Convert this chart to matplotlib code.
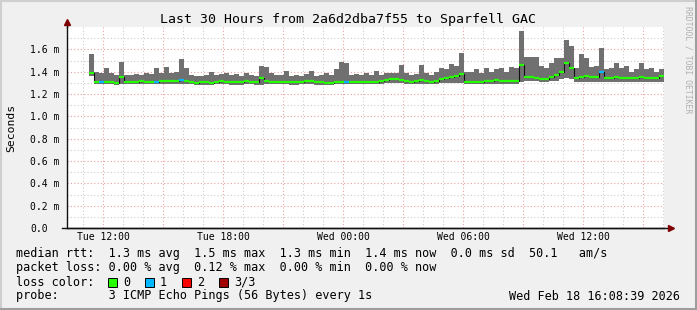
import numpy as np
import matplotlib.pyplot as plt
from matplotlib.patches import Rectangle
from matplotlib.lines import Line2D

W, H = 697, 310
MONO = 'DejaVu Sans Mono'

# time of first sample (hours since Tue 00:00) and sample spacing
start_hour = 11.3
step_hour = 0.25

# rtt values in ms, one per step
smoke_top = [1.56, 1.40, 1.39, 1.43, 1.39, 1.37, 1.49, 1.37, 1.37, 1.38,
             1.37, 1.39, 1.38, 1.43, 1.39, 1.44, 1.39, 1.40, 1.51, 1.43,
             1.37, 1.36, 1.36, 1.37, 1.40, 1.37, 1.38, 1.39, 1.37, 1.38,
             1.36, 1.39, 1.37, 1.36, 1.45, 1.44, 1.39, 1.37, 1.37, 1.41,
             1.36, 1.37, 1.36, 1.38, 1.41, 1.36, 1.37, 1.39, 1.37, 1.42,
             1.49, 1.48, 1.37, 1.38, 1.37, 1.39, 1.37, 1.41, 1.37, 1.39,
             1.39, 1.39, 1.46, 1.39, 1.37, 1.38, 1.46, 1.39, 1.37, 1.40,
             1.43, 1.42, 1.47, 1.45, 1.57, 1.40, 1.40, 1.42, 1.39, 1.43,
             1.40, 1.42, 1.43, 1.40, 1.44, 1.43, 1.76, 1.53, 1.53, 1.53,
             1.45, 1.43, 1.48, 1.52, 1.52, 1.68, 1.63, 1.43, 1.56, 1.52,
             1.44, 1.45, 1.61, 1.42, 1.43, 1.48, 1.43, 1.45, 1.40, 1.42,
             1.48, 1.42, 1.43, 1.40, 1.42]
smoke_bottom = [1.36, 1.29, 1.29, 1.29, 1.29, 1.285, 1.29, 1.29, 1.29, 1.29,
                1.29, 1.29, 1.29, 1.29, 1.29, 1.29, 1.29, 1.29, 1.29, 1.29,
                1.29, 1.285, 1.285, 1.285, 1.285, 1.29, 1.29, 1.29, 1.285, 1.285,
                1.285, 1.29, 1.29, 1.285, 1.28, 1.29, 1.29, 1.29, 1.29, 1.29,
                1.285, 1.285, 1.29, 1.29, 1.29, 1.285, 1.285, 1.28, 1.285, 1.29,
                1.29, 1.29, 1.29, 1.29, 1.29, 1.29, 1.29, 1.29, 1.29, 1.295,
                1.30, 1.30, 1.295, 1.29, 1.29, 1.29, 1.29, 1.29, 1.29, 1.29,
                1.30, 1.30, 1.30, 1.30, 1.30, 1.29, 1.29, 1.29, 1.29, 1.29,
                1.29, 1.29, 1.29, 1.29, 1.29, 1.29, 1.31, 1.32, 1.32, 1.32,
                1.31, 1.31, 1.32, 1.32, 1.33, 1.34, 1.33, 1.31, 1.31, 1.31,
                1.31, 1.31, 1.31, 1.305, 1.305, 1.305, 1.305, 1.305, 1.305, 1.305,
                1.305, 1.305, 1.305, 1.305, 1.31]
median_rtt = [1.39, 1.31, 1.31, 1.31, 1.305, 1.30, 1.35, 1.31, 1.31, 1.31,
              1.315, 1.31, 1.31, 1.31, 1.315, 1.32, 1.315, 1.32, 1.325, 1.32,
              1.31, 1.30, 1.305, 1.305, 1.30, 1.305, 1.32, 1.31, 1.305, 1.305,
              1.305, 1.32, 1.31, 1.305, 1.34, 1.32, 1.31, 1.31, 1.31, 1.31,
              1.305, 1.305, 1.31, 1.315, 1.32, 1.305, 1.305, 1.30, 1.30, 1.31,
              1.31, 1.31, 1.31, 1.31, 1.31, 1.31, 1.31, 1.31, 1.315, 1.325,
              1.335, 1.335, 1.325, 1.32, 1.31, 1.315, 1.325, 1.32, 1.31, 1.32,
              1.335, 1.34, 1.355, 1.365, 1.38, 1.31, 1.31, 1.31, 1.31, 1.32,
              1.315, 1.325, 1.32, 1.315, 1.315, 1.32, 1.46, 1.35, 1.35, 1.345,
              1.335, 1.335, 1.35, 1.37, 1.40, 1.48, 1.43, 1.345, 1.355, 1.365,
              1.355, 1.35, 1.40, 1.345, 1.345, 1.35, 1.345, 1.34, 1.34, 1.345,
              1.35, 1.34, 1.34, 1.34, 1.365]
loss = [0, 0, 1, 0, 0, 0, 0, 0, 0, 0,
        0, 0, 0, 1, 0, 0, 0, 0, 1, 0,
        0, 0, 0, 0, 0, 0, 0, 0, 0, 0,
        0, 0, 0, 0, 0, 0, 0, 0, 0, 0,
        0, 0, 0, 0, 0, 0, 0, 0, 0, 0,
        0, 1, 0, 0, 0, 0, 0, 0, 0, 0,
        0, 0, 0, 0, 0, 0, 0, 0, 0, 0,
        0, 0, 0, 0, 0, 0, 0, 0, 0, 0,
        0, 0, 0, 0, 0, 0, 0, 0, 0, 0,
        0, 0, 0, 0, 0, 0, 0, 0, 0, 0,
        0, 0, 1, 0, 0, 0, 0, 0, 0, 0,
        0, 0, 0, 0, 0]

loss_colors = ['#26ff00', '#00b8ff', '#ff0000', '#a00000']
loss_labels = ['0', '1', '2', '3/3']
tick_hours = [12, 18, 24, 30, 36]
tick_labels = ['Tue 12:00', 'Tue 18:00', 'Wed 00:00', 'Wed 06:00', 'Wed 12:00']
y_ticks = [0.0, 0.2, 0.4, 0.6, 0.8, 1.0, 1.2, 1.4, 1.6]

legend_lines = [
    'median rtt:  1.3 ms avg  1.5 ms max  1.3 ms min  1.4 ms now  0.0 ms sd  50.1   am/s',
    'packet loss: 0.00 % avg  0.12 % max  0.00 % min  0.00 % now',
    'loss color:',
    'probe:       3 ICMP Echo Pings (56 Bytes) every 1s',
]


def fx(x):
    return x / W


def fy(y):
    return 1 - y / H


fig = plt.figure(figsize=(W / 100, H / 100), dpi=100, facecolor='#f0f0f0')
ax = fig.add_axes([fx(67), fy(228), 597 / W, 201 / H])
ax.set_facecolor('white')
ax.set_xlim(10.2, 40.05)
ax.set_ylim(0, 1.8)

# grid: minor every hour / 0.1 ms, major every 3 hours / 0.2 ms
for h in range(11, 41):
    c = '#e8a0a0' if h % 3 == 0 else '#cccccc'
    ax.axvline(h, color=c, lw=0.8, ls=(0, (1, 2)), zorder=0)
for k in range(1, 18):
    c = '#e8a0a0' if k % 2 == 0 else '#cccccc'
    ax.axhline(k / 10, color=c, lw=0.8, ls=(0, (1, 2)), zorder=0)

n = len(median_rtt)
edges = start_hour + step_hour * np.arange(n + 1)
ax.fill_between(edges, smoke_bottom + smoke_bottom[-1:], smoke_top + smoke_top[-1:],
                step='post', color='#707070', lw=0, zorder=2)
ax.step(edges, median_rtt + median_rtt[-1:], where='post', color='#101010', lw=0.8, zorder=3)
ax.hlines(median_rtt, edges[:-1], edges[1:], colors=[loss_colors[l] for l in loss],
          lw=1.6, zorder=4)

# axes
for s in ['top', 'right']:
    ax.spines[s].set_visible(False)
for s in ['left', 'bottom']:
    ax.spines[s].set_color('#101010')
    ax.spines[s].set_linewidth(1)
ax.add_line(Line2D([0, 0], [1, 1.02], transform=ax.transAxes, color='#101010', lw=1, clip_on=False))
ax.add_line(Line2D([-0.009, 1.008], [0, 0], transform=ax.transAxes, color='#101010', lw=1, clip_on=False))
ax.plot([0], [1.025], marker='^', color='#7f0000', ms=4, transform=ax.transAxes, clip_on=False)
ax.plot([1.012], [0], marker='>', color='#7f0000', ms=4, transform=ax.transAxes, clip_on=False)

ax.set_xticks(tick_hours, tick_labels, fontfamily=MONO, fontsize=7)
ax.tick_params(axis='x', length=0, pad=3)
ax.set_yticks(y_ticks, ['0.0' if v == 0 else f'{v:.1f} m' for v in y_ticks],
              fontfamily=MONO, fontsize=7, ha='left')
ax.tick_params(axis='y', length=0, pad=26.5)

fig.text(fx(348.5), fy(19.5), 'Last 30 Hours from 2a6d2dba7f55 to Sparfell GAC',
         fontfamily=MONO, fontsize=9.5, ha='center', va='center')
fig.text(fx(11), fy(128), 'Seconds', fontfamily=MONO, fontsize=8.2, rotation=90,
         ha='center', va='center')
fig.text(fx(688), fy(6), 'RRDTOOL / TOBI OETIKER', fontfamily=MONO, fontsize=5.9,
         rotation=270, ha='center', va='top', color='#b0b0b0')

for i, line in enumerate(legend_lines):
    fig.text(fx(16), fy(254 + 14 * i), line, fontfamily=MONO, fontsize=8.5, va='center')
fig.text(fx(680), fy(296), 'Wed Feb 18 16:08:39 2026', fontfamily=MONO, fontsize=8.5,
         va='center', ha='right')

box_x = [108, 145, 182, 219]
for bx, c, lab in zip(box_x, loss_colors, loss_labels):
    fig.add_artist(Rectangle((fx(bx), fy(287)), 9 / W, 9 / H, transform=fig.transFigure,
                             facecolor=c, edgecolor='black', lw=0.7))
    fig.text(fx(bx + 15), fy(282), lab, fontfamily=MONO, fontsize=8.5, va='center')

# 3d frame
fig.add_artist(Line2D([0, 1], [fy(1), fy(1)], color='#cfcfcf', lw=1.5))
fig.add_artist(Line2D([fx(1), fx(1)], [0, 1], color='#cfcfcf', lw=1.5))
fig.add_artist(Line2D([0, 1], [fy(H - 1), fy(H - 1)], color='#9e9e9e', lw=1.5))
fig.add_artist(Line2D([fx(W - 1), fx(W - 1)], [0, 1], color='#9e9e9e', lw=1.5))

fig.savefig('out.png', dpi=100, facecolor=fig.get_facecolor())
